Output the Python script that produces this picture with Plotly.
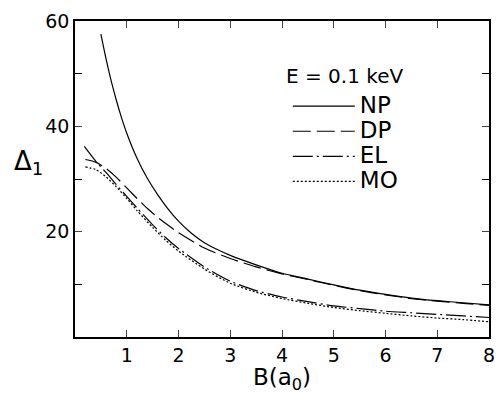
import plotly.graph_objects as go

B_np = [0.5, 0.6, 0.7, 0.8, 0.9, 1.0, 1.2, 1.4, 1.6, 1.8, 2.0, 2.25, 2.5, 2.75, 3.0, 3.5, 4.0, 4.5, 5.0, 5.5, 6.0, 6.5, 7.0, 7.5, 8.0]
NP = [57.5, 52.8, 48.6, 44.9, 41.6, 38.7, 33.9, 30.1, 27.0, 24.3, 22.0, 19.7, 17.9, 16.6, 15.5, 13.7, 12.1, 11.0, 9.9, 8.9, 8.1, 7.4, 6.9, 6.5, 6.1]

B_dp = [0.2, 0.4, 0.6, 0.8, 1.0, 1.2, 1.4, 1.6, 1.8, 2.0, 2.5, 3.0, 3.5, 4.0, 4.5, 5.0, 5.5, 6.0, 6.5, 7.0, 7.5, 8.0]
DP = [33.7, 33.2, 32.0, 30.3, 28.3, 26.3, 24.4, 22.7, 21.2, 19.8, 16.9, 14.9, 13.3, 12.0, 10.9, 9.8, 8.8, 8.0, 7.3, 6.8, 6.4, 6.0]

B_el = [0.18, 0.4, 0.62, 0.8, 1.0, 1.2, 1.5, 1.75, 2.0, 2.5, 3.0, 3.5, 4.0, 4.5, 5.0, 5.5, 6.0, 6.5, 7.0, 7.5, 8.0]
EL = [36.2, 33.4, 31.0, 28.9, 26.7, 24.5, 21.3, 18.9, 16.8, 13.3, 10.6, 8.8, 7.6, 6.7, 5.9, 5.4, 4.9, 4.6, 4.3, 4.0, 3.7]

B_mo = [0.2, 0.4, 0.6, 0.8, 1.0, 1.2, 1.5, 1.75, 2.0, 2.5, 3.0, 3.5, 4.0, 4.5, 5.0, 5.5, 6.0, 6.5, 7.0, 7.5, 8.0]
MO = [32.3, 31.8, 30.4, 28.5, 26.3, 24.0, 20.8, 18.4, 16.3, 12.9, 10.2, 8.5, 7.3, 6.4, 5.6, 5.0, 4.5, 4.0, 3.6, 3.3, 2.9]

x_ticks = [1, 2, 3, 4, 5, 6, 7, 8]
y_ticks = [20, 40, 60]
y_minor_ticks = [10, 30, 50]

series = [
    ("NP", B_np, NP, "solid"),
    ("DP", B_dp, DP, "18px,6px"),
    ("EL", B_el, EL, "20px,4px,2px,4px"),
    ("MO", B_mo, MO, "2px,2px"),
]

font = "DejaVu Sans, sans-serif"

fig = go.Figure()
for name, xs, ys, dash in series:
    fig.add_trace(go.Scatter(
        x=xs, y=ys, mode="lines",
        name="<span style='font-size:23px'>" + name + "</span>",
        line=dict(color="black", width=1.2, dash=dash, shape="spline", smoothing=0.6),
    ))

fig.update_layout(
    width=499, height=393,
    margin=dict(l=75, r=4, t=21, b=56),
    paper_bgcolor="white", plot_bgcolor="white",
    font=dict(family=font, color="black", size=18),
    showlegend=True,
    legend=dict(
        x=0.514, y=0.786, xanchor="left", yanchor="top",
        bgcolor="rgba(0,0,0,0)", borderwidth=0,
        font=dict(size=17, family=font, color="black"),
        itemwidth=62, tracegroupgap=0,
    ),
)

fig.add_annotation(text="E = 0.1 keV", xref="paper", yref="paper",
                   x=(348 - 75) / 420, y=(337 - 76) / 316, xanchor="center", yanchor="middle",
                   showarrow=False, font=dict(size=20, family=font))
fig.add_annotation(text="Δ<sub>1</sub>", xref="paper", yref="paper",
                   x=(28 - 75) / 420, y=(337 - 163) / 316, xanchor="center", yanchor="middle",
                   showarrow=False, font=dict(size=26, family=font))
fig.add_annotation(text="B(a<sub>0</sub>)", xref="paper", yref="paper",
                   x=(285 - 75) / 420, y=(337 - 362) / 316, xanchor="center", yanchor="top",
                   showarrow=False, font=dict(size=23, family=font))

fig.update_xaxes(
    range=[0, 8], tickvals=x_ticks, ticks="inside", ticklen=7, tickwidth=1.2,
    showline=True, linecolor="black", linewidth=1.5, mirror="ticks",
    showgrid=False, zeroline=False, tickfont=dict(size=19, family=font),
    ticklabeloverflow="allow",
)
fig.update_yaxes(
    range=[0, 60], tickvals=y_ticks, ticks="inside", ticklen=7, tickwidth=1.2,
    showline=True, linecolor="black", linewidth=1.5, mirror="ticks",
    showgrid=False, zeroline=False, tickfont=dict(size=19, family=font),
    minor=dict(tickvals=y_minor_ticks, ticks="inside", ticklen=7, tickwidth=1.2,
               tickcolor="black", showgrid=False),
)

fig.write_html("out.html")
